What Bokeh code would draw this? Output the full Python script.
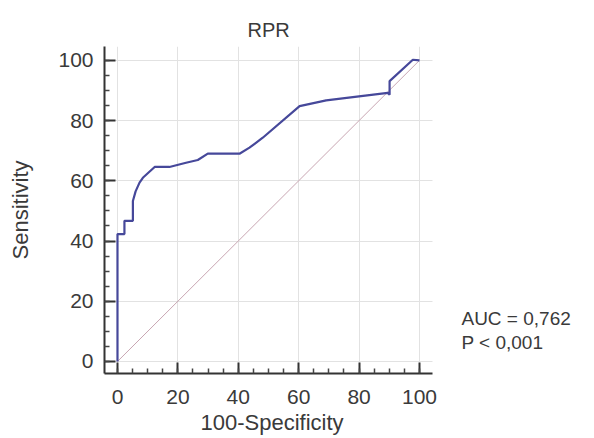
from bokeh.plotting import figure
from bokeh.models import SingleIntervalTicker, Range1d, Label, Title
from bokeh.embed import file_html
from bokeh.resources import INLINE

# ROC curve (100-Specificity, Sensitivity)
fpr = [0, 0, 2.3, 2.3, 5.1, 5.1, 6, 7.3, 8.4, 12.3, 17.2, 22.7, 26.6, 29.9, 40.4, 43.7, 48.1, 60.3, 69.1, 89.5, 90.1, 90.1, 97.8, 100]
sens = [0, 42.3, 42.3, 46.7, 46.7, 53.3, 56.5, 59.4, 61, 64.6, 64.6, 66, 66.9, 69, 69, 71, 74.3, 84.8, 86.7, 89.2, 88.6, 93.1, 100.2, 100]
diag_x = [0, 100]
diag_y = [0, 100]
grid_ticks = [0, 20, 40, 60, 80, 100]
title_text = "RPR"
xlabel_text = "100-Specificity"
ylabel_text = "Sensitivity"
auc_text = "AUC = 0,762"
p_text = "P < 0,001"

FONT = "Liberation Sans"
TXT = "#3a3a3a"
X0, X1 = -4.3, 104.3
XEND = X0 + 470 / 3.02

p = figure(width=578, height=436, output_backend="svg", toolbar_location=None,
           x_range=Range1d(X0, XEND), y_range=Range1d(-4.0, 104.6),
           min_border_left=104, min_border_right=4, min_border_top=46, min_border_bottom=0)
p.outline_line_color = None
p.background_fill_color = "white"
p.border_fill_color = "white"

p.add_layout(Title(text=title_text, align="left", offset=143, text_font=FONT,
                   text_font_size="20px", text_font_style="normal", text_color=TXT,
                   standoff=11), "above")

for ax in (p.xaxis[0], p.yaxis[0]):
    ax.ticker = SingleIntervalTicker(interval=20, num_minor_ticks=4)
    ax.axis_line_color = "#333333"
    ax.axis_line_width = 2
    ax.major_tick_line_color = "#333333"
    ax.major_tick_line_width = 2
    ax.minor_tick_line_color = "#444444"
    ax.minor_tick_line_width = 1.5
    ax.major_tick_in = 11
    ax.major_tick_out = 0
    ax.minor_tick_in = 5
    ax.minor_tick_out = 0
    ax.major_label_text_font = FONT
    ax.major_label_text_font_size = "21px"
    ax.major_label_text_color = TXT
    ax.axis_label_text_font = FONT
    ax.axis_label_text_font_size = "22px"
    ax.axis_label_text_font_style = "normal"
    ax.axis_label_text_color = TXT

p.xaxis.bounds = (X0, X1)
p.yaxis.axis_label = ylabel_text
p.xaxis.major_label_standoff = 16
p.yaxis.major_label_standoff = 11
p.yaxis.axis_label_standoff = 22

p.add_layout(Title(text=xlabel_text, align="left", offset=96, text_font=FONT,
                   text_font_size="22px", text_font_style="normal", text_color=TXT,
                   standoff=3), "below")

xg, yg = p.xgrid[0], p.ygrid[0]
for g in (xg, yg):
    g.ticker = SingleIntervalTicker(interval=20)
    g.grid_line_color = "#e2e2e2"
    g.grid_line_width = 1
xg.bounds = (0, 100)
if "cross_bounds" in yg.properties():
    yg.cross_bounds = (X0, X1)
else:
    yg.visible = False
    p.segment(x0=[X0] * len(grid_ticks), x1=[X1] * len(grid_ticks), y0=grid_ticks, y1=grid_ticks,
              line_color="#e2e2e2", line_width=1)

p.line(diag_x, diag_y, line_color="#c8a6b2", line_width=1)
p.line(fpr, sens, line_color="#46489a", line_width=2.2)

p.add_layout(Label(x=113.9, y=14.2, text=auc_text, text_font=FONT, text_font_size="19px",
                   text_color=TXT, text_baseline="middle"))
p.add_layout(Label(x=113.9, y=6.2, text=p_text, text_font=FONT, text_font_size="19px",
                   text_color=TXT, text_baseline="middle"))

open("out.html", "w").write(file_html(p, INLINE))
